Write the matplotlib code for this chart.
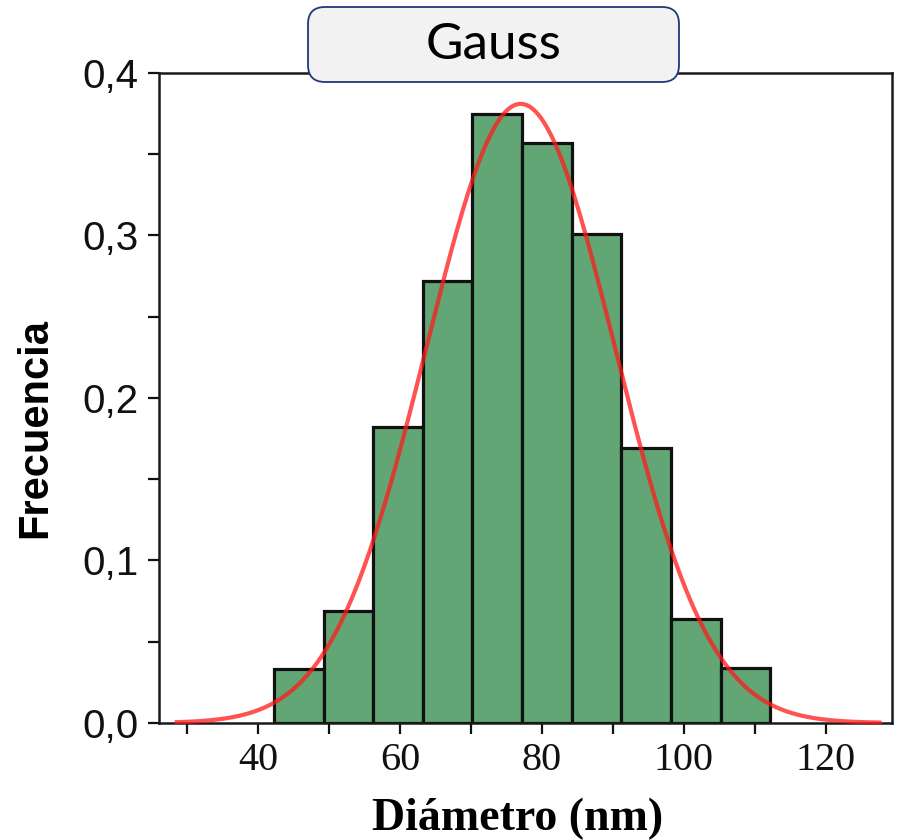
import numpy as np
from matplotlib import pyplot as plt
from matplotlib.patches import FancyBboxPatch
from matplotlib.ticker import MultipleLocator, FuncFormatter

# histogram of particle diameters (nm) and relative frequency per bin
bin_edges = [42.2, 49.2, 56.2, 63.2, 70.2, 77.2, 84.2, 91.2, 98.2, 105.2, 112.2]
frequencies = [0.033, 0.069, 0.182, 0.272, 0.375, 0.357, 0.301, 0.169, 0.064, 0.034]

# gaussian fit: centre, width (sigma), peak height and plotted range
gauss_center = 77.0
gauss_sigma = 13.3
gauss_peak = 0.381
gauss_range = (28.5, 127.6)

bar_color = '#62a676'
fit_color = '#ff1a1a'

fig = plt.figure(figsize=(8.97, 8.40), dpi=100)
ax = fig.add_axes([0.1773, 0.1393, 0.8166, 0.7738])

lefts = bin_edges[:-1]
widths = np.diff(bin_edges)
ax.bar(lefts, frequencies, width=widths, align='edge', color=bar_color,
       edgecolor='#111111', linewidth=2.3, zorder=2)

xs = np.linspace(gauss_range[0], gauss_range[1], 400)
ys = gauss_peak * np.exp(-0.5 * ((xs - gauss_center) / gauss_sigma) ** 2)
ax.plot(xs, ys, color=fit_color, linewidth=3.0, alpha=0.75, zorder=3, clip_on=False)

ax.set_xlim(26.0, 129.3)
ax.set_ylim(0, 0.4)

ax.xaxis.set_major_locator(MultipleLocator(20))
ax.xaxis.set_minor_locator(MultipleLocator(10))
ax.yaxis.set_major_locator(MultipleLocator(0.1))
ax.yaxis.set_minor_locator(MultipleLocator(0.05))
ax.yaxis.set_major_formatter(FuncFormatter(lambda v, p: f'{v:.1f}'.replace('.', ',')))

ax.tick_params(axis='x', which='both', direction='out', length=8, width=1.6,
               top=False, pad=6, labelsize=29, colors='#111111')
ax.tick_params(axis='y', which='both', direction='out', length=8, width=1.6,
               right=False, pad=7, labelsize=29, colors='#111111')
for lab in ax.get_xticklabels():
    lab.set_fontfamily('Liberation Serif')
for lab in ax.get_yticklabels():
    lab.set_fontfamily('Liberation Sans')

for side in ['left', 'bottom', 'right', 'top']:
    ax.spines[side].set_color('#1a1a1a')
    ax.spines[side].set_linewidth(1.8)

ax.set_xlabel('Diámetro (nm)', fontsize=33, fontweight='bold',
              fontfamily='Liberation Serif')
ax.xaxis.set_label_coords(0.49, -0.115)
ax.set_ylabel('Frecuencia', fontsize=30, fontweight='bold',
              fontfamily='Liberation Sans')
ax.yaxis.set_label_coords(-0.142, 0.454)

# title box over the top spine
box = FancyBboxPatch((3.08, 7.58), 3.71, 0.75,
                     boxstyle='round,pad=0,rounding_size=0.17',
                     transform=fig.dpi_scale_trans, facecolor='#f2f2f2',
                     edgecolor='#1f3a78', linewidth=1.3, zorder=10)
fig.patches.append(box)
fig.text(4.935 / 8.97, 1 - 0.45 / 8.40, 'Gauss', fontsize=37, fontfamily='Lato',
         ha='center', va='center', color='black', zorder=11)

fig.savefig('out.png', dpi=100)
